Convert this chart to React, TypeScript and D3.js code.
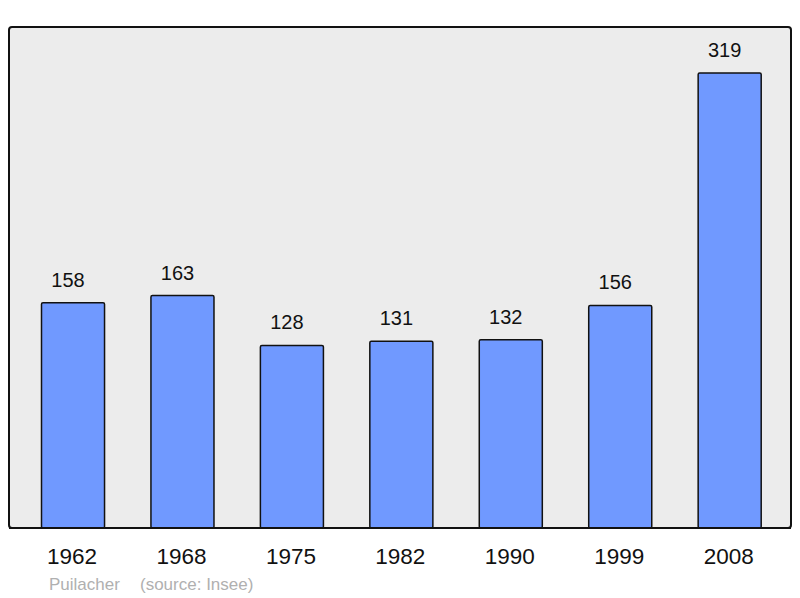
import React from "react";
import * as d3 from "d3";

const years = ["1962", "1968", "1975", "1982", "1990", "1999", "2008"];
const population = [158, 163, 128, 131, 132, 156, 319];
const commune = "Puilacher";
const source = "(source: Insee)";

export default function App() {
  const W = 800, H = 598;
  const panel = { x: 9, y: 27, w: 782, h: 501 };
  const x = d3.scaleBand<string>().domain(years).range([18.3, 784.4]).paddingInner(0.424).paddingOuter(0.212);
  const y = d3.scaleLinear().domain([0, 319]).range([528, 73]);
  const font = "'Liberation Sans', Arial, sans-serif";
  return (
    <svg width={W} height={H} style={{ position: "absolute", left: 0, top: 0 }}>
      <rect x={0} y={0} width={W} height={H} fill="#ffffff" />
      <rect x={panel.x} y={panel.y} width={panel.w} height={panel.h} rx={3} fill="#ececec" stroke="#111" strokeWidth={2} />
      {years.map((yr, i) => (
        <g key={yr}>
          <rect x={x(yr)!} y={y(population[i])} width={x.bandwidth()} height={528 - y(population[i])} fill="#7099ff" stroke="#111" strokeWidth={1.5} rx={1.5} />
          <text x={x(yr)! + x.bandwidth() / 2 - 5} y={y(population[i]) - 16} textAnchor="middle" fontFamily={font} fontSize={20} fill="#111">{population[i]}</text>
          <text x={x(yr)! + x.bandwidth() / 2 - 1} y={564} textAnchor="middle" fontFamily={font} fontSize={22.5} fill="#111">{yr}</text>
        </g>
      ))}
      <line x1={panel.x} x2={panel.x + panel.w} y1={528} y2={528} stroke="#111" strokeWidth={2} />
      <text x={49} y={590} fontFamily={font} fontSize={17} fill="#b0b0b0">{commune}</text>
      <text x={140} y={590} fontFamily={font} fontSize={17} fill="#b0b0b0">{source}</text>
    </svg>
  );
}
